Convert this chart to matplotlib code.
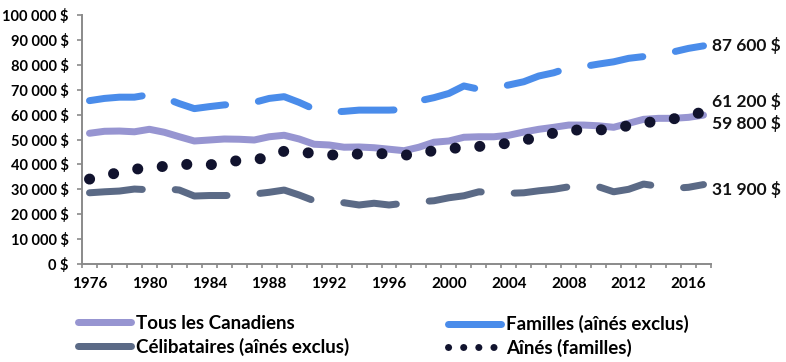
import matplotlib
matplotlib.use("Agg")
import matplotlib.pyplot as plt
from matplotlib.lines import Line2D
from matplotlib.ticker import FuncFormatter
import numpy as np

plt.rcParams['font.family'] = ['Lato', 'DejaVu Sans']
plt.rcParams['lines.scale_dashes'] = False

years = list(range(1976, 2018))

tous = [52500, 53300, 53400, 53100, 54100, 52900, 51100, 49400, 49800, 50200,
        50100, 49800, 51100, 51700, 50200, 48100, 47800, 46900, 47000, 46700,
        46100, 45500, 46900, 48900, 49400, 50900, 51100, 51100, 51700, 53000,
        54100, 54900, 55800, 55800, 55500, 54900, 56500, 58100, 58500, 58500,
        58900, 59800]

familles = [65600, 66500, 67000, 67000, 68000, 66700, 64400, 62400, 63200, 63900,
            64200, 64900, 66500, 67200, 64900, 62200, 61000, 61300, 61800, 61800,
            61800, 62000, 65500, 66800, 68500, 71500, 70200, 70800, 71900, 73200,
            75500, 76800, 78800, 79300, 80300, 81200, 82600, 83300, 84500, 85200,
            86600, 87600]

celibataires = [28600, 29000, 29300, 30100, 29800, 30300, 29700, 27300, 27500, 27500,
                27600, 28100, 28800, 29700, 27700, 25400, 25000, 24600, 23700, 24400,
                23700, 24400, 25000, 25400, 26600, 27400, 29000, 28600, 28400, 28600,
                29400, 30000, 31000, 31000, 31000, 29000, 30000, 32100, 31200, 30400,
                30800, 31900]

aines = [34100, 35300, 36900, 38000, 38800, 39200, 39900, 40100, 39800, 40700,
         41600, 41800, 43000, 45300, 45000, 44400, 43800, 43800, 44200, 44300,
         44300, 43700, 44200, 45600, 46200, 47000, 47200, 47900, 48500, 49700,
         51000, 52600, 53800, 53800, 53800, 54300, 55600, 56700, 57300, 58300,
         59400, 61200]

series_names = ["Tous les Canadiens", "Familles (aînés exclus)",
                "Célibataires (aînés exclus)", "Aînés (familles)"]
end_labels = ["59 800 $", "87 600 $", "31 900 $", "61 200 $"]
xtick_years = list(range(1976, 2017, 4))

c_tous = "#9795D1"
c_fam = "#4A8CEA"
c_cel = "#5B6A86"
c_ain = "#11132E"
gray = "#8A8A8A"

PX = 72 / 100.0  # points per pixel

fig = plt.figure(figsize=(7.86, 3.62), dpi=100)
ax = fig.add_axes([82 / 786, (362 - 264) / 362, (711 - 82) / 786, (264 - 15) / 362])

x = np.arange(len(years))
lw = 7 * PX
dash = (53 * PX, 33 * PX)

ax.plot(x, tous, color=c_tous, lw=lw, solid_capstyle='round', solid_joinstyle='round', zorder=2)
ax.plot(x, familles, color=c_fam, lw=lw, dashes=dash, dash_capstyle='round',
        dash_joinstyle='round', zorder=2)
ax.plot(x, celibataires, color=c_cel, lw=lw, dashes=dash, dash_capstyle='round',
        dash_joinstyle='round', zorder=2)
ax.plot(x, aines, color=c_ain, lw=11 * PX, dashes=(0.1, 24.5 * PX), dash_capstyle='round',
        zorder=3)

ax.set_xlim(-0.5, len(years) - 0.5)
ax.set_ylim(0, 100000)

ax.set_xticks(np.arange(-0.5, len(years), 1.0))
ax.set_xticklabels([])
ax.set_xticks([years.index(y) for y in xtick_years], minor=True)
ax.set_xticklabels([str(y) for y in xtick_years], minor=True)
ax.tick_params(axis='x', which='major', length=4 * PX, width=1.2, color=gray, direction='out')
ax.tick_params(axis='x', which='minor', length=0, pad=9, labelsize=11)
for t in ax.get_xticklabels(minor=True):
    t.set_fontweight('bold')

ax.set_yticks(np.arange(0, 100001, 10000))
ax.yaxis.set_major_formatter(FuncFormatter(lambda v, p: f"{int(v):,} $".replace(",", " ")))
ax.tick_params(axis='y', length=5 * PX, width=1.2, color=gray, direction='out', pad=6, labelsize=10.5)
for t in ax.get_yticklabels():
    t.set_fontweight('bold')

for s in ['top', 'right']:
    ax.spines[s].set_visible(False)
for s in ['left', 'bottom']:
    ax.spines[s].set_color(gray)
    ax.spines[s].set_linewidth(1.4)

# end labels (pixel y positions of the reference)
label_y_px = [123, 46, 189, 101]
for lab, ypx in zip(end_labels, label_y_px):
    fig.text(712 / 786, 1 - ypx / 362, lab, ha='left', va='center',
             fontsize=12.5, fontweight='bold', color='#111111')

# legend
h_tous = Line2D([], [], color=c_tous, lw=lw, solid_capstyle='round')
h_fam = Line2D([], [], color=c_fam, lw=lw, solid_capstyle='round')
h_cel = Line2D([], [], color=c_cel, lw=lw, solid_capstyle='round')
h_ain = Line2D([], [], color=c_ain, lw=7 * PX, dashes=(0.1, 15 * PX), dash_capstyle='round')

leg_kw = dict(frameon=False, borderpad=0, borderaxespad=0,
              prop={'size': 13.5, 'weight': 'bold'},
              handlelength=2.8, handletextpad=0.28, labelspacing=0.3, loc='upper left')
leg1 = fig.legend([h_tous, h_cel], [series_names[0], series_names[2]],
                  bbox_to_anchor=(78 / 786, 1 - 315 / 362), **leg_kw)
leg2 = fig.legend([h_fam, h_ain], [series_names[1], series_names[3]],
                  bbox_to_anchor=(448 / 786, 1 - 315 / 362), **leg_kw)

fig.savefig("out.png", dpi=100)
